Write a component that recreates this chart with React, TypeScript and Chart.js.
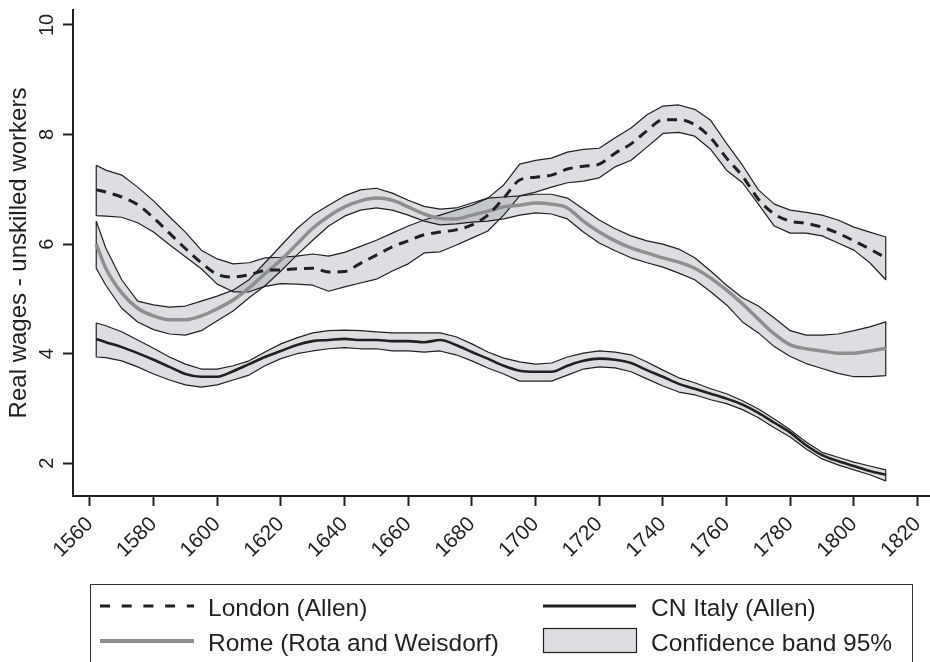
import React, { useEffect, useRef } from "react";
import { Chart, registerables } from "chart.js";

Chart.register(...registerables);

const FONT = "'Liberation Sans', Arial, Helvetica, sans-serif";
const TEXT = "#231f20";

const years = [
  1562, 1565, 1570, 1575, 1580, 1585, 1590, 1595, 1600, 1605, 1610, 1615, 1620, 1625, 1630,
  1635, 1640, 1645, 1650, 1655, 1660, 1665, 1670, 1675, 1680, 1685, 1690, 1695, 1700, 1705,
  1710, 1715, 1720, 1725, 1730, 1735, 1740, 1745, 1750, 1755, 1760, 1765, 1770, 1775, 1780,
  1785, 1790, 1795, 1800, 1805, 1810,
];

const londonMid = [
  6.99, 6.95, 6.86, 6.72, 6.48, 6.2, 5.92, 5.66, 5.45, 5.4, 5.44, 5.52, 5.53, 5.55, 5.56,
  5.49, 5.5, 5.65, 5.8, 5.95, 6.06, 6.17, 6.22, 6.26, 6.35, 6.53, 6.84, 7.17, 7.22, 7.26,
  7.37, 7.42, 7.46, 7.66, 7.83, 8.07, 8.27, 8.27, 8.18, 7.94, 7.57, 7.24, 6.82, 6.55, 6.42,
  6.38, 6.31, 6.2, 6.06, 5.91, 5.75,
];
const londonUpper = [
  7.44, 7.35, 7.26, 7.04, 6.79, 6.5, 6.22, 5.89, 5.73, 5.64, 5.66, 5.75, 5.76, 5.78, 5.82,
  5.78, 5.85, 5.96, 6.07, 6.2, 6.33, 6.44, 6.53, 6.62, 6.71, 6.84, 7.08, 7.46, 7.53, 7.57,
  7.68, 7.73, 7.75, 7.94, 8.12, 8.36, 8.52, 8.54, 8.46, 8.26, 7.84, 7.44, 6.99, 6.73, 6.62,
  6.58, 6.53, 6.44, 6.31, 6.22, 6.13,
];
const londonLower = [
  6.52, 6.51, 6.49, 6.39, 6.22, 5.99, 5.77, 5.55, 5.27, 5.13, 5.13, 5.23, 5.28, 5.27, 5.25,
  5.14, 5.22, 5.29, 5.36, 5.51, 5.64, 5.84, 5.86, 5.98, 6.11, 6.24, 6.53, 6.88, 6.95, 7.04,
  7.12, 7.15, 7.21, 7.41, 7.53, 7.77, 8.02, 8.04, 7.97, 7.73, 7.35, 7.12, 6.73, 6.33, 6.2,
  6.2, 6.15, 6.02, 5.89, 5.66, 5.35,
];

const romeMid = [
  6.0, 5.56, 5.11, 4.83, 4.69, 4.62, 4.62, 4.69, 4.82, 4.98, 5.2, 5.46, 5.71, 6.0, 6.29,
  6.51, 6.68, 6.79, 6.84, 6.8, 6.68, 6.55, 6.47, 6.46, 6.53, 6.6, 6.68, 6.71, 6.75, 6.73,
  6.66, 6.42, 6.22, 6.06, 5.93, 5.84, 5.75, 5.67, 5.56, 5.38, 5.16, 4.91, 4.63, 4.36, 4.16,
  4.09, 4.05, 4.01, 4.01, 4.05, 4.1,
];
const romeUpper = [
  6.42, 5.93, 5.35, 4.96, 4.89, 4.85, 4.87, 4.96, 5.05, 5.16, 5.35, 5.66, 5.97, 6.28, 6.53,
  6.71, 6.88, 6.99, 7.02, 6.93, 6.8, 6.69, 6.64, 6.66, 6.75, 6.84, 6.86, 6.88, 6.91, 6.91,
  6.84, 6.64, 6.44, 6.28, 6.15, 6.06, 6.0, 5.91, 5.75, 5.51, 5.25, 5.02, 4.87, 4.65, 4.42,
  4.34, 4.34, 4.36, 4.42, 4.49, 4.58,
];
const romeLower = [
  5.56, 5.25, 4.83, 4.58, 4.44, 4.36, 4.34, 4.42, 4.6, 4.78, 5.02, 5.24, 5.51, 5.8, 6.07,
  6.33, 6.51, 6.62, 6.66, 6.62, 6.53, 6.42, 6.35, 6.37, 6.4, 6.42, 6.46, 6.53, 6.57, 6.55,
  6.46, 6.22, 6.02, 5.88, 5.75, 5.66, 5.58, 5.47, 5.35, 5.13, 4.89, 4.58, 4.38, 4.13, 3.95,
  3.82, 3.73, 3.64, 3.58, 3.58, 3.6,
];

const italyMid = [
  4.27, 4.21, 4.12, 4.01, 3.89, 3.76, 3.63, 3.58, 3.58, 3.68, 3.81, 3.94, 4.05, 4.16, 4.23,
  4.25, 4.27, 4.25, 4.25, 4.23, 4.23, 4.21, 4.25, 4.16, 4.03, 3.91, 3.78, 3.69, 3.67, 3.67,
  3.78, 3.87, 3.91, 3.89, 3.83, 3.7, 3.58, 3.45, 3.36, 3.27, 3.18, 3.07, 2.92, 2.74, 2.56,
  2.33, 2.15, 2.04, 1.95, 1.86, 1.79,
];
const italyUpper = [
  4.56, 4.51, 4.4, 4.25, 4.1, 3.94, 3.81, 3.72, 3.72, 3.78, 3.87, 4.03, 4.18, 4.29, 4.38,
  4.42, 4.43, 4.42, 4.4, 4.38, 4.38, 4.38, 4.38, 4.31, 4.18, 4.03, 3.92, 3.85, 3.81, 3.83,
  3.94, 4.01, 4.05, 4.03, 3.98, 3.85, 3.7, 3.56, 3.47, 3.36, 3.27, 3.14, 2.99, 2.81, 2.61,
  2.39, 2.2, 2.11, 2.02, 1.95, 1.88,
];
const italyLower = [
  3.94, 3.93, 3.87, 3.76, 3.63, 3.52, 3.43, 3.39, 3.43, 3.52, 3.61, 3.78, 3.91, 4.0, 4.05,
  4.09, 4.11, 4.09, 4.09, 4.05, 4.05, 4.03, 4.05, 3.98, 3.87, 3.74, 3.63, 3.5, 3.5, 3.5,
  3.61, 3.72, 3.76, 3.74, 3.67, 3.54, 3.41, 3.3, 3.25, 3.16, 3.09, 2.98, 2.83, 2.65, 2.48,
  2.26, 2.08, 1.97, 1.88, 1.79, 1.68,
];

const xTicksStep = 20;
const yTicksStep = 2;
const xMin = 1554.7;
const xMax = 1823.9;
const yMin = 1.403;
const yMax = 10.273;

const legendLabels = [
  "London (Allen)",
  "Rome (Rota and Weisdorf)",
  "CN Italy (Allen)",
  "Confidence band 95%",
];
const yTitle = "Real wages - unskilled workers";

const BAND_FILL = "rgba(150,155,165,0.33)";
const BAND_SWATCH = "#dcdde0";
const ROME_GRAY = "#8f8f8f";

export default function App() {
  const ref = useRef<HTMLCanvasElement>(null);

  useEffect(() => {
    const canvas = ref.current;
    if (!canvas) return;

    const pts = (ys: number[]) => years.map((x, i) => ({ x, y: ys[i] }));
    const outline = (up: number[], lo: number[]) => {
      const u = pts(up);
      return [...u, ...pts(lo).reverse(), u[0]];
    };

    const hidden = { pointRadius: 0, pointHoverRadius: 0 };

    const datasets: any[] = [
      { data: pts(londonLower), borderWidth: 0, fill: false, order: 5, ...hidden },
      { data: pts(londonUpper), borderWidth: 0, fill: 0, backgroundColor: BAND_FILL, order: 5, ...hidden },
      { data: pts(romeLower), borderWidth: 0, fill: false, order: 5, ...hidden },
      { data: pts(romeUpper), borderWidth: 0, fill: 2, backgroundColor: BAND_FILL, order: 5, ...hidden },
      { data: pts(italyLower), borderWidth: 0, fill: false, order: 5, ...hidden },
      { data: pts(italyUpper), borderWidth: 0, fill: 4, backgroundColor: BAND_FILL, order: 5, ...hidden },
      { data: outline(londonUpper, londonLower), borderColor: TEXT, borderWidth: 1.2, fill: false, order: 4, tension: 0, borderJoinStyle: "round", ...hidden },
      { data: outline(romeUpper, romeLower), borderColor: TEXT, borderWidth: 1.2, fill: false, order: 4, tension: 0, borderJoinStyle: "round", ...hidden },
      { data: outline(italyUpper, italyLower), borderColor: TEXT, borderWidth: 1.2, fill: false, order: 4, tension: 0, borderJoinStyle: "round", ...hidden },
      { data: pts(italyMid), borderColor: TEXT, borderWidth: 2.6, fill: false, order: 3, cubicInterpolationMode: "monotone", ...hidden },
      { data: pts(romeMid), borderColor: ROME_GRAY, borderWidth: 3.5, fill: false, order: 2, cubicInterpolationMode: "monotone", ...hidden },
      { data: pts(londonMid), borderColor: TEXT, borderWidth: 3, borderDash: [10, 7], fill: false, order: 1, cubicInterpolationMode: "monotone", ...hidden },
    ];

    const yTickPlugin = {
      id: "yTickLabels",
      afterDraw(chart: any) {
        const ys = chart.scales.y;
        const ctx = chart.ctx;
        ctx.save();
        ctx.font = `20px ${FONT}`;
        ctx.fillStyle = TEXT;
        ctx.textAlign = "center";
        ctx.textBaseline = "middle";
        for (const t of ys.ticks) {
          const py = ys.getPixelForValue(t.value);
          ctx.save();
          ctx.translate(ys.right - 27, py);
          ctx.rotate(-Math.PI / 2);
          ctx.fillText(String(t.value), 0, 1);
          ctx.restore();
        }
        ctx.restore();
      },
    };

    const legendPlugin = {
      id: "boxLegend",
      afterDraw(chart: any) {
        const ctx = chart.ctx;
        ctx.save();
        ctx.strokeStyle = "#333";
        ctx.lineWidth = 1;
        ctx.strokeRect(90.5, 584.5, 822, 120);

        // London dashed
        ctx.strokeStyle = TEXT;
        ctx.lineWidth = 3;
        ctx.setLineDash([10, 11.7]);
        ctx.beginPath();
        ctx.moveTo(100, 606);
        ctx.lineTo(194, 606);
        ctx.stroke();
        ctx.setLineDash([]);
        // Rome gray
        ctx.strokeStyle = ROME_GRAY;
        ctx.lineWidth = 4;
        ctx.beginPath();
        ctx.moveTo(100, 641);
        ctx.lineTo(194, 641);
        ctx.stroke();
        // Italy black
        ctx.strokeStyle = TEXT;
        ctx.lineWidth = 3;
        ctx.beginPath();
        ctx.moveTo(543, 606);
        ctx.lineTo(636, 606);
        ctx.stroke();
        // band swatch
        ctx.fillStyle = BAND_SWATCH;
        ctx.fillRect(543, 628, 93, 24);
        ctx.lineWidth = 1.2;
        ctx.strokeRect(543.5, 628.5, 93, 24);

        ctx.fillStyle = TEXT;
        ctx.font = `24.5px ${FONT}`;
        ctx.textAlign = "left";
        ctx.textBaseline = "alphabetic";
        ctx.fillText(legendLabels[0], 208, 616);
        ctx.fillText(legendLabels[1], 208, 651);
        ctx.fillText(legendLabels[2], 651, 616);
        ctx.fillText(legendLabels[3], 651, 651);
        ctx.restore();
      },
    };

    const chart = new Chart(canvas, {
      type: "line",
      data: { datasets },
      plugins: [yTickPlugin, legendPlugin],
      options: {
        responsive: false,
        devicePixelRatio: 1,
        animation: false,
        events: [],
        layout: { padding: { top: 10, left: 0, right: 0, bottom: 0 } },
        plugins: {
          legend: { display: false },
          tooltip: { enabled: false },
          title: { display: false },
        },
        scales: {
          x: {
            type: "linear",
            min: xMin,
            max: xMax,
            afterFit(s: any) {
              s.height = 166;
              s.paddingLeft = 0;
              s.paddingRight = 0;
            },
            ticks: {
              stepSize: xTicksStep,
              includeBounds: false,
              autoSkip: false,
              minRotation: 45,
              maxRotation: 45,
              padding: 6,
              color: TEXT,
              font: { family: FONT, size: 21 },
              callback: (v: any) => String(v),
            },
            grid: {
              display: true,
              drawOnChartArea: false,
              drawTicks: true,
              tickLength: 10,
              tickWidth: 2,
              tickColor: TEXT,
            },
            border: { display: true, color: TEXT, width: 2 },
          },
          y: {
            type: "linear",
            min: yMin,
            max: yMax,
            afterFit(s: any) {
              s.width = 73;
              s.paddingTop = 0;
              s.paddingBottom = 0;
            },
            ticks: {
              stepSize: yTicksStep,
              includeBounds: false,
              display: false,
            },
            grid: {
              display: true,
              drawOnChartArea: false,
              drawTicks: true,
              tickLength: 10,
              tickWidth: 2,
              tickColor: TEXT,
            },
            border: { display: true, color: TEXT, width: 2 },
            title: {
              display: true,
              text: yTitle,
              color: TEXT,
              font: { family: FONT, size: 24 },
              padding: { top: 5, bottom: 0 },
            },
          },
        },
      },
    } as any);

    return () => chart.destroy();
  }, []);

  return (
    <div style={{ position: "absolute", left: 0, top: 0, width: 930, height: 662, background: "#fff" }}>
      <canvas ref={ref} width={930} height={662} style={{ width: 930, height: 662, display: "block" }} />
    </div>
  );
}
